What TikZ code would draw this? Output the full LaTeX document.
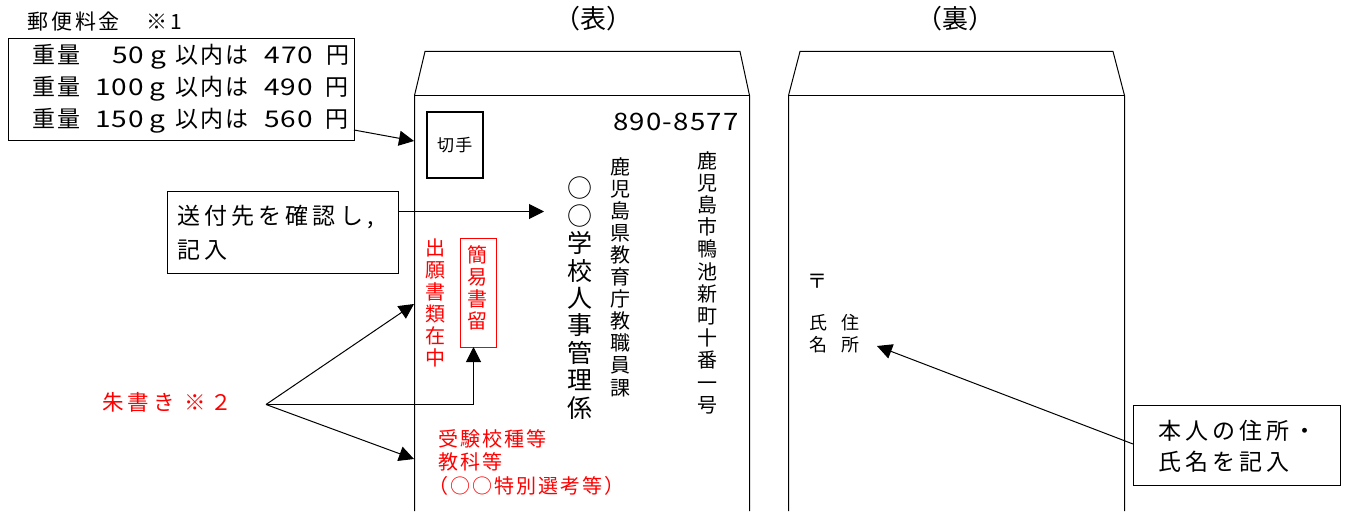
\documentclass[tikz,border=0pt]{standalone}
\usepackage{fontspec}
\setmainfont{Noto Sans CJK JP}
\usetikzlibrary{arrows.meta}
\newcommand{\vcol}[4]{\node[anchor=north,inner sep=0pt,align=center,text width=30pt,text=#2,
  font=\fontsize{#3}{#4}\selectfont] at #1}
\newcommand{\dg}[1]{{\addfontfeature{FakeStretch=1.22,LetterSpace=4}#1}}
\newcommand{\feeline}[3]{重量\hspace{15pt}#1\hspace{6pt}\dg{g}\hspace{10pt}以内は\hspace{16pt}\dg{#2}\hspace{13pt}円}
\tikzset{
  x=1pt,y=-1pt,
  line/.style={draw=black,line width=1pt},
  arr/.style={line,-{Triangle[length=15pt,width=15pt]}},
  boxn/.style={draw=black,line width=1pt,fill=white,rectangle,inner sep=0pt},
  lab/.style={inner sep=0pt,anchor=west,font=\fontsize{23}{26}\selectfont\addfontfeature{LetterSpace=18}},
  fee/.style={inner sep=0pt,anchor=west,font=\fontsize{23}{26}\selectfont\addfontfeature{LetterSpace=8}},
  redlab/.style={inner sep=0pt,anchor=west,text=red,font=\fontsize{20}{24}\selectfont\addfontfeature{LetterSpace=10}},
}
\begin{document}
\begin{tikzpicture}
\useasboundingbox (0,0) rectangle (1348,511);
\clip (0,0) rectangle (1348,511);
% envelopes
\draw[line] (414.5,511) -- (414.5,95.5) -- (425,51.5) -- (740,51.5) -- (749.5,95.5) -- (749.5,511);
\draw[line] (414.5,95.5) -- (749.5,95.5);
\draw[line] (788.5,511) -- (788.5,95.5) -- (800,51.5) -- (1113,51.5) -- (1124.5,95.5) -- (1124.5,511);
\draw[line] (788.5,95.5) -- (1124.5,95.5);
% titles
\node[inner sep=0pt,font=\fontsize{26}{30}\selectfont] (front) at (593,19) {（表）};
\node[inner sep=0pt,font=\fontsize{26}{30}\selectfont] (back) at (955,19) {（裏）};
\node[inner sep=0pt,anchor=west,font=\fontsize{21}{26}\selectfont\addfontfeature{LetterSpace=14}] (fee) at (27,22) {郵便料金　※1};
% fee box
\node[boxn,anchor=north west,minimum width=346pt,minimum height=101pt] (feebox) at (7.5,38.5) {};
\node[fee] (l1) at (32,57) {\feeline{\hspace{17pt}\dg{50}}{470}{}};
\node[fee] (l2) at (32,89) {\feeline{\dg{100}}{490}{}};
\node[fee] (l3) at (32,121) {\feeline{\dg{150}}{560}{}};
\coordinate (feeout) at (354,130);
\coordinate (feein) at (414,141);
\draw[arr] (feeout) -- (feein);
% stamp
\node[boxn,line width=1.6pt,anchor=north west,minimum width=56pt,minimum height=66pt,font=\fontsize{17}{20}\selectfont\addfontfeature{LetterSpace=8}] (stamp) at (426,111) {切手};
% postcode
\node[inner sep=0pt,anchor=west,font=\fontsize{24}{26}\selectfont\addfontfeature{FakeStretch=1.15,LetterSpace=5}] (zip) at (613,122) {890-8577};
% vertical address
\vcol{(707,151)}{black}{20}{22.2}(addr){鹿\\児\\島\\市\\鴨\\池\\新\\町\\十\\番\\一\\号};
\vcol{(620,157)}{black}{20}{22.1}(dept){鹿\\児\\島\\県\\教\\育\\庁\\教\\職\\員\\課};
\vcol{(580,177)}{black}{25}{27.4}(dest){○\\○\\学\\校\\人\\事\\管\\理\\係};
\vcol{(435,239)}{red}{20}{22}(enc){出\\願\\書\\類\\在\\中};
\node[draw=red,line width=1pt,rectangle,anchor=north west,minimum width=36pt,minimum height=109pt,inner sep=0pt] (regbox) at (459.5,237.5) {};
\vcol{(477,245)}{red}{20}{22}(reg){簡\\易\\書\\留};
% send box
\node[boxn,anchor=north west,minimum width=231pt,minimum height=82pt] (send) at (166.5,190.5) {};
\node[lab] (s1) at (177,217) {送付先を確認し,};
\node[lab] (s2) at (177,250) {記入};
\coordinate (sendout) at (398,211.5);
\coordinate (sendin) at (544,211.5);
\draw[arr] (sendout) -- (sendin);
% red notes
\node[redlab] (r1) at (438,439) {受験校種等};
\node[redlab] (r2) at (438,462) {教科等};
\node[redlab] (r3) at (428,486) {（○○特別選考等）};
\node[inner sep=0pt,anchor=west,text=red,font=\fontsize{21.5}{24}\selectfont\addfontfeature{LetterSpace=20}] (red) at (102,402) {朱書き ※２};
\coordinate (fork) at (266,404.5);
\coordinate (t1) at (414,304);
\coordinate (t2) at (414,459);
\coordinate (t3) at (473.5,347);
\draw[arr] (fork) -- (t1);
\draw[arr] (fork) -- (t2);
\draw[arr] (fork) -- (473.5,404.5) -- (t3);
% back side
\node[inner sep=0pt,font=\fontsize{20}{22}\selectfont] (post) at (817,281) {〒};
\vcol{(850,314)}{black}{18}{22.5}(addrb){住\\所};
\vcol{(818,314)}{black}{18}{22.5}(nameb){氏\\名};
\node[boxn,anchor=north west,minimum width=207pt,minimum height=80pt] (self) at (1132.5,404.5) {};
\node[lab] (b1) at (1158,431) {本人の住所・};
\node[lab] (b2) at (1158,462) {氏名を記入};
\coordinate (selfout) at (1133,444);
\coordinate (selfin) at (877,346);
\draw[arr] (selfout) -- (selfin);
\end{tikzpicture}
\end{document}
